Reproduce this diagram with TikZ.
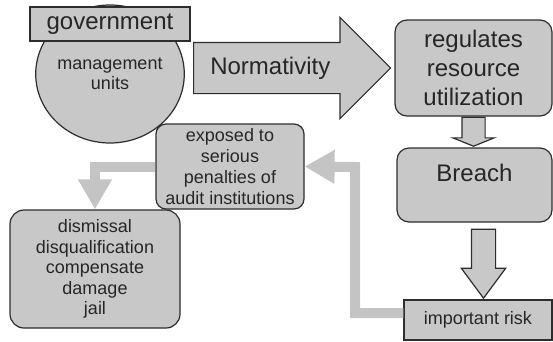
\documentclass[tikz,border=0pt]{standalone}
\usepackage{fontspec}
\setmainfont{Liberation Sans}
\usetikzlibrary{shapes.geometric,shapes.arrows,arrows.meta,positioning}
\definecolor{boxgray}{RGB}{200,200,200}
\definecolor{flowgray}{RGB}{196,196,196}
\definecolor{edgegray}{RGB}{45,45,45}
\begin{document}
\begin{tikzpicture}[x=1pt,y=-1pt,
    box/.style={draw=edgegray,fill=boxgray,line width=1.2pt,rounded corners=12pt,align=center,inner sep=0pt,text=black!85,font=\fontsize{24}{29}\selectfont},
    smallbox/.style={box,font=\fontsize{18}{21}\selectfont},
    plainbox/.style={box,rounded corners=0pt},
    blockarrow/.style={single arrow,draw=edgegray,fill=boxgray,line width=1.2pt,inner sep=0pt,text=black!85,font=\fontsize{24}{29}\selectfont},
    flow/.style={draw=flowgray,line width=10pt,-{Triangle[length=30pt,width=32pt]}}]
    \useasboundingbox (0,0) rectangle (553,341);
    % left part
    \node[box,ellipse,rounded corners=0pt,minimum width=148pt,minimum height=138pt,font=\fontsize{18}{20}\selectfont] (units) at (110,74) {management\\units};
    \node[plainbox,minimum width=160pt,minimum height=34pt] (gov) at (110,24) {government};
    \node[blockarrow,text height=18pt,text depth=6pt,inner ysep=13pt,text width=138pt,align=left,minimum width=100pt,minimum height=197pt,single arrow head extend=25pt,anchor=tail] (norm) at (193,68) {Normativity};
    % right column
    \node[box,minimum width=157pt,minimum height=96pt] (reg) at (473.5,68) {regulates\\resource\\utilization};
    \node[box,minimum width=155pt,minimum height=74pt,text height=18pt,text depth=25pt] (breach) at (474.5,185) {Breach};
    \node[plainbox,minimum width=148pt,minimum height=40pt,font=\fontsize{18}{21}\selectfont] (risk) at (478,320) {important risk};
    \node[blockarrow,shape border rotate=270,inner sep=11pt,minimum width=40pt,minimum height=29pt,single arrow head extend=9pt,single arrow tip angle=136,anchor=tail] (down1) at (reg.south) {};
    \node[blockarrow,shape border rotate=270,inner sep=11.5pt,minimum width=43pt,minimum height=69pt,single arrow head extend=10pt,single arrow tip angle=73,anchor=tail] (down2) at ([xshift=9pt,yshift=-6pt]breach.south) {};
    % penalties
    \node[smallbox,rounded corners=10pt,minimum width=148pt,minimum height=85pt] (exposed) at (230,166.5) {exposed to\\serious\\penalties of\\audit institutions};
    \node[smallbox,rounded corners=14pt,minimum width=170pt,minimum height=118pt,font=\fontsize{18}{20.5}\selectfont] (dismiss) at (95,269) {dismissal\\disqualification\\compensate\\damage\\jail};
    \coordinate (bend) at (355,167);
    \draw[flow] ([yshift=7pt]risk.west) -| (bend) -- (exposed.east);
    \draw[flow] (exposed.west) -| (dismiss.north);
\end{tikzpicture}
\end{document}
